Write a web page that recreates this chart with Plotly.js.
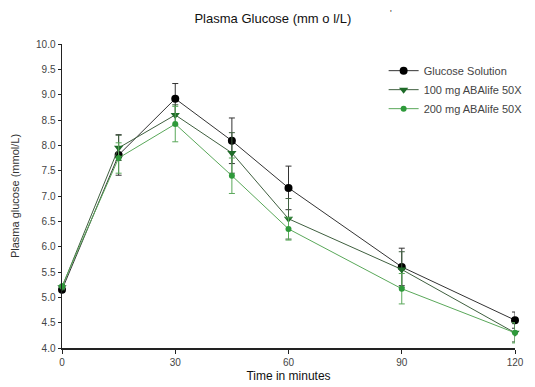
<!DOCTYPE html>
<html><head><meta charset="utf-8">
<script src="https://cdn.plot.ly/plotly-3.0.1.min.js"></script>
<style>html,body{margin:0;padding:0;background:#fff}#chart{width:535px;height:387px}</style>
</head><body><div id="chart"></div>
<script>
const timeMin = [0, 15, 30, 45, 60, 90, 120];
const glucoseSolution = [5.15, 7.81, 8.92, 8.09, 7.16, 5.60, 4.55];
const glucoseSolutionErr = [0.05, 0.40, 0.30, 0.45, 0.43, 0.37, 0.16];
const aba100 = [5.20, 7.95, 8.60, 7.85, 6.55, 5.55, 4.30];
const aba100Err = [0.05, 0.25, 0.20, 0.40, 0.40, 0.35, 0.18];
const aba200 = [5.22, 7.75, 8.42, 7.40, 6.35, 5.17, 4.30];
const aba200Err = [0.05, 0.30, 0.35, 0.35, 0.22, 0.30, 0.20];
const seriesNames = ["Glucose Solution", "100 mg ABAlife 50X", "200 mg ABAlife 50X"];
const xTicks = [0, 30, 60, 90, 120];
const yTicks = [4.0, 4.5, 5.0, 5.5, 6.0, 6.5, 7.0, 7.5, 8.0, 8.5, 9.0, 9.5, 10.0];

const font = "Liberation Sans, Arial, sans-serif";
function mk(y, err, name, lineColor, markerColor, symbol, size) {
  return {
    x: timeMin, y: y, name: name, type: "scatter", mode: "lines+markers",
    line: {color: lineColor, width: 1},
    marker: {color: markerColor, symbol: symbol, size: size},
    error_y: {type: "data", array: err, visible: true, color: lineColor, thickness: 1, width: 3},
    cliponaxis: false
  };
}
const data = [
  mk(glucoseSolution, glucoseSolutionErr, seriesNames[0], "#333333", "#000000", "circle", 8),
  mk(aba100, aba100Err, seriesNames[1], "#3f5f3f", "#1e6b28", "triangle-down", 8),
  mk(aba200, aba200Err, seriesNames[2], "#5aa85a", "#2e9a3a", "circle", 6)
];
const layout = {
  width: 535, height: 387,
  margin: {l: 62, r: 20, t: 44, b: 39, autoexpand: false},
  paper_bgcolor: "#fff", plot_bgcolor: "#fff",
  font: {family: font, color: "#333", size: 10},
  title: {text: "Plasma Glucose (mm o l/L)", x: 0.51, xanchor: "center", y: 0.952, yanchor: "middle", font: {family: font, size: 13, color: "#111"}},
  xaxis: {
    range: [0, 120], tickvals: xTicks, ticktext: xTicks.map(String),
    showgrid: false, zeroline: false, showline: true, linecolor: "#222", linewidth: 1.5,
    ticks: "outside", ticklen: 4, tickcolor: "#222", tickfont: {size: 10, color: "#444"},
    title: {text: "Time in minutes", font: {size: 12, color: "#111"}, standoff: 5}
  },
  yaxis: {
    range: [4, 10], tickvals: yTicks, ticktext: yTicks.map(v => v.toFixed(1)),
    showgrid: false, zeroline: false, showline: true, linecolor: "#222", linewidth: 1.5,
    ticks: "outside", ticklen: 3, tickcolor: "#222", tickfont: {size: 10, color: "#444"},
    title: {text: "Plasma glucose (mmol/L)", font: {size: 11, color: "#333"}, standoff: 14}
  },
  legend: {x: 0.71, y: 0.96, xanchor: "left", yanchor: "top", bgcolor: "rgba(0,0,0,0)",
    font: {size: 11, color: "#444"}, tracegroupgap: 0, itemwidth: 30},
  annotations: [{text: "'", xref: "paper", yref: "paper", x: 0.733, y: 1.125, showarrow: false, font: {size: 9, color: "#333"}}],
  showlegend: true
};
Plotly.newPlot("chart", data, layout, {displayModeBar: false, staticPlot: true});
</script></body></html>
